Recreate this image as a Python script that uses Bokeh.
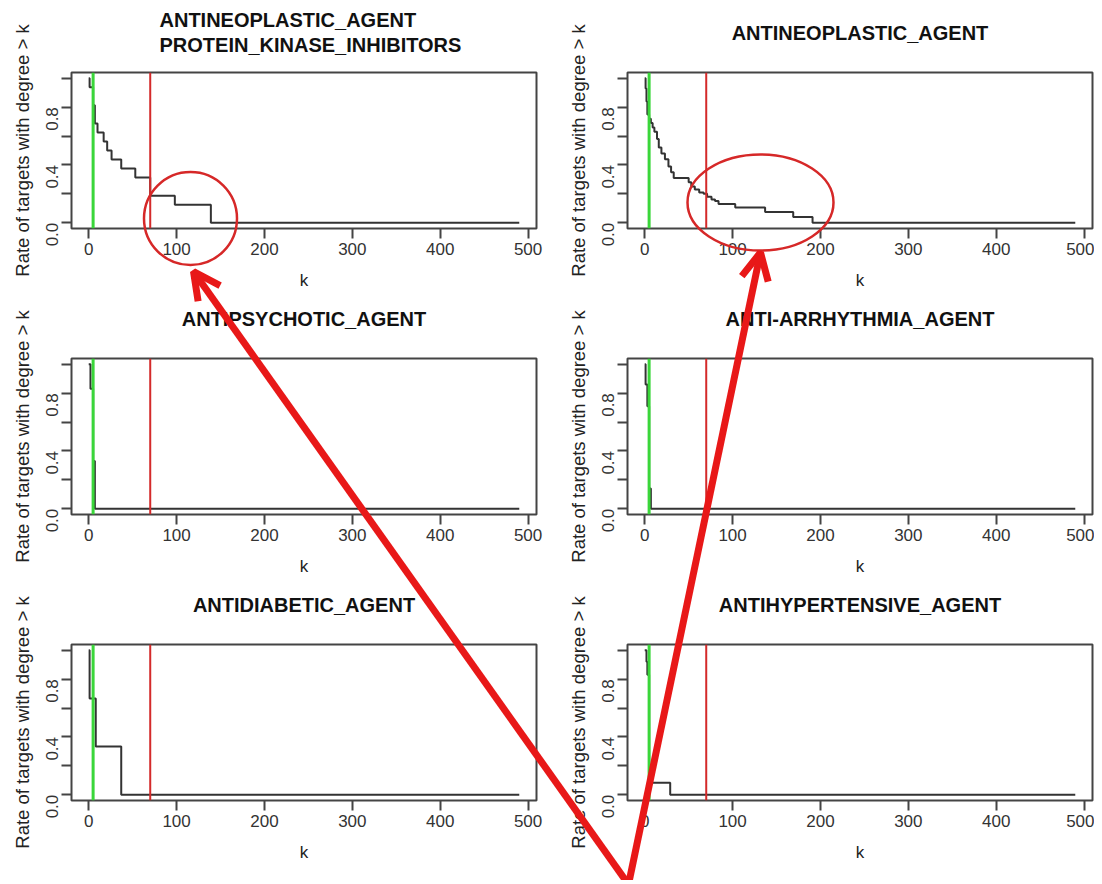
import math
from bokeh.plotting import figure
from bokeh.layouts import column
from bokeh.models import Range1d, FixedTicker, Span, Label, Arrow, OpenHead, GridBox
from bokeh.embed import file_html
from bokeh.resources import INLINE

# ---------------- data ----------------
titles = [
    ["ANTINEOPLASTIC_AGENT", "PROTEIN_KINASE_INHIBITORS"],
    ["ANTINEOPLASTIC_AGENT"],
    ["ANTIPSYCHOTIC_AGENT"],
    ["ANTI-ARRHYTHMIA_AGENT"],
    ["ANTIDIABETIC_AGENT"],
    ["ANTIHYPERTENSIVE_AGENT"],
]

k_kinase = [0, 1, 5, 7, 10, 17, 21, 26, 37, 53, 70, 98, 139, 490]
rate_kinase = [1.0, 0.9375, 0.8125, 0.6875, 0.625, 0.5625, 0.5, 0.4375, 0.375, 0.3125, 0.1875, 0.125, 0.0, 0.0]

k_antineo = [0, 1, 2, 3, 5, 7, 9, 11, 14, 16, 19, 23, 27, 30, 33, 50, 53, 57, 62, 67, 71, 76, 80, 84, 103, 137, 169, 191, 490]
rate_antineo = [1.0, 0.93, 0.84, 0.75, 0.72, 0.69, 0.66, 0.63, 0.58, 0.52, 0.48, 0.44, 0.39, 0.35, 0.31,
                0.28, 0.25, 0.23, 0.21, 0.20, 0.18, 0.16, 0.15, 0.13, 0.105, 0.075, 0.04, 0.0, 0.0]

k_psych = [0, 2, 5, 7, 490]
rate_psych = [1.0, 0.83, 0.33, 0.0, 0.0]

k_arrh = [0, 1, 3, 5, 7, 490]
rate_arrh = [1.0, 0.86, 0.71, 0.14, 0.0, 0.0]

k_diab = [0, 1, 8, 37, 490]
rate_diab = [1.0, 0.667, 0.333, 0.0, 0.0]

k_hyper = [0, 2, 3, 5, 29, 490]
rate_hyper = [1.0, 0.92, 0.83, 0.083, 0.0, 0.0]

green_k = 5
red_k = 70

x_ticks = [0, 100, 200, 300, 400, 500]
y_ticks = [0.0, 0.2, 0.4, 0.6, 0.8, 1.0]
y_tick_labels = ["0.0", "", "0.4", "", "0.8", ""]

series_k = [k_kinase, k_antineo, k_psych, k_arrh, k_diab, k_hyper]
series_rate = [rate_kinase, rate_antineo, rate_psych, rate_arrh, rate_diab, rate_hyper]

# ---------------- layout / style ----------------
FONT = "Liberation Sans"
INK = "#333333"
BOX = "#444444"
FW, FH = 465, 156
XR = (-19.6, 509.6)
YR = (-0.04, 1.04)
BORDER_LEFT = [71, 71]
BORDER_RIGHT = [20, 2]
BORDER_TOP = [72, 66, 66]
BORDER_BOTTOM = [64, 64, 80]

# page positions of the frames (derived from the borders above)
COL_X = [0, BORDER_LEFT[0] + FW + BORDER_RIGHT[0]]
ROW_H = [BORDER_TOP[r] + FH + BORDER_BOTTOM[r] for r in range(3)]
ROW_Y = [0, ROW_H[0], ROW_H[0] + ROW_H[1]]
FRAME_LEFT = [COL_X[c] + BORDER_LEFT[c] for c in range(2)]
FRAME_TOP = [ROW_Y[r] + BORDER_TOP[r] for r in range(3)]
PAGE_W = COL_X[1] + BORDER_LEFT[1] + FW + BORDER_RIGHT[1]
PAGE_H = sum(ROW_H)

# hand-drawn red marks (page pixel coordinates)
circle_x = [190, 760]
circle_y = [218, 202]
circle_w = [93, 146]
circle_h = [93, 96]
arrow_base = (628, 884)
arrow_tips = [(193, 271), (760, 252)]


def make_panel(i):
    row, col = divmod(i, 2)
    p = figure(
        frame_width=FW, frame_height=FH,
        x_range=Range1d(*XR), y_range=Range1d(*YR),
        min_border_left=BORDER_LEFT[col],
        min_border_right=BORDER_RIGHT[col],
        min_border_top=BORDER_TOP[row],
        min_border_bottom=BORDER_BOTTOM[row],
        title=None, toolbar_location=None, output_backend="svg",
        x_axis_label="k", y_axis_label="Rate of targets with degree > k",
    )
    p.grid.visible = False
    p.outline_line_color = BOX
    p.outline_line_width = 2

    for ax in p.axis:
        ax.axis_line_color = None
        ax.major_tick_line_color = BOX
        ax.major_tick_line_width = 2
        ax.major_tick_out = 10
        ax.major_tick_in = 0
        ax.minor_tick_line_color = None
        ax.major_label_text_font = FONT
        ax.major_label_text_font_size = "17px"
        ax.major_label_text_color = INK
        ax.axis_label_text_font = FONT
        ax.axis_label_text_font_style = "normal"
        ax.axis_label_text_color = "#222222"

    p.xaxis.axis_label_text_font_size = "17px"
    p.xaxis.ticker = FixedTicker(ticks=x_ticks)
    p.xaxis.major_label_standoff = 4
    p.xaxis.axis_label_standoff = 13

    p.yaxis.axis_label_text_font_size = "18.5px"
    p.yaxis.ticker = FixedTicker(ticks=y_ticks)
    p.yaxis.major_label_overrides = dict(zip(y_ticks, y_tick_labels))
    p.yaxis.major_label_orientation = math.pi / 2
    p.yaxis.major_label_standoff = 9
    p.yaxis.axis_label_standoff = 5

    p.step(series_k[i], series_rate[i], mode="after", line_color=INK, line_width=2)

    p.add_layout(Span(location=green_k, dimension="height", line_color="#3ad63a", line_width=3))
    p.add_layout(Span(location=red_k, dimension="height", line_color="#d42a2a", line_width=2))
    return p


panels = [make_panel(i) for i in range(6)]

# transparent overlay covering the page: panel titles and the red marks
ov = figure(width=PAGE_W, height=PAGE_H, x_range=Range1d(0, PAGE_W), y_range=Range1d(PAGE_H, 0),
            min_border=0, min_border_left=0, min_border_right=0, min_border_top=0, min_border_bottom=0,
            title=None, toolbar_location=None, output_backend="svg",
            x_axis_type=None, y_axis_type=None)
ov.outline_line_color = None
ov.background_fill_alpha = 0
ov.border_fill_alpha = 0

for i, lines in enumerate(titles):
    row, col = divmod(i, 2)
    if len(lines) == 1:
        ov.add_layout(Label(x=FRAME_LEFT[col] + FW / 2, y=FRAME_TOP[row] - 40, text=lines[0],
                            text_align="center", text_baseline="middle",
                            text_font=FONT, text_font_size="20px", text_font_style="bold",
                            text_color="#111111"))
    else:
        for txt, off in zip(lines, [53, 28]):
            ov.add_layout(Label(x=FRAME_LEFT[col] + 88, y=FRAME_TOP[row] - off, text=txt,
                                text_align="left", text_baseline="middle",
                                text_font=FONT, text_font_size="20px", text_font_style="bold",
                                text_color="#111111"))

ov.ellipse(x=circle_x, y=circle_y, width=circle_w, height=circle_h,
           fill_color=None, line_color="#d62828", line_width=2.5)
for tx, ty in arrow_tips:
    ov.add_layout(Arrow(x_start=arrow_base[0], y_start=arrow_base[1], x_end=tx, y_end=ty,
                        line_color="#e81818", line_width=7,
                        end=OpenHead(size=27, line_width=7, line_color="#e81818")))

children = [(panels[i], i // 2, i % 2) for i in range(6)]
children.append((column(ov), 0, 0, 3, 2))
layout = GridBox(children=children, spacing=0)

open("out.html", "w").write(file_html(layout, INLINE))
